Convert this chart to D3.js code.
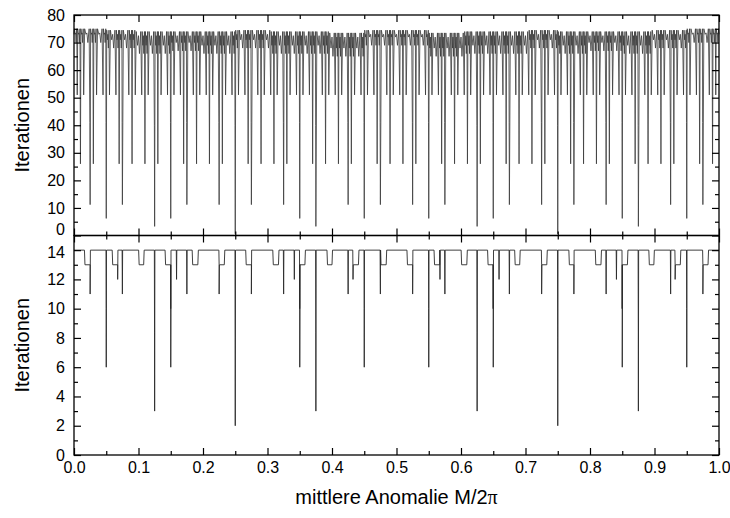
<!DOCTYPE html>
<html>
<head>
<meta charset="utf-8">
<script src="https://cdn.jsdelivr.net/npm/d3@7"></script>
<style>
  body { margin: 0; background: #fff; }
  svg text { font-family: "Liberation Sans", Arial, sans-serif; fill: #000; }
</style>
</head>
<body>
<div id="chart"></div>
<script>
// tick values
var xTicks = [0.0, 0.1, 0.2, 0.3, 0.4, 0.5, 0.6, 0.7, 0.8, 0.9, 1.0];
var xMinor = [0.05, 0.15, 0.25, 0.35, 0.45, 0.55, 0.65, 0.75, 0.85, 0.95];
var topTicks = [0, 10, 20, 30, 40, 50, 60, 70, 80];
var topMinor = [5, 15, 25, 35, 45, 55, 65, 75];
var botTicks = [0, 2, 4, 6, 8, 10, 12, 14];
var botMinor = [1, 3, 5, 7, 9, 11, 13];

// upper panel: positions of the dips, grouped by how deep they go
var top51 = [0.005,0.015,0.035,0.045,0.055,0.065,0.085,0.095,
             0.105,0.115,0.135,0.145,0.155,0.165,0.185,0.195,
             0.205,0.215,0.235,0.245,0.255,0.265,0.285,0.295,
             0.305,0.315,0.335,0.345,0.355,0.365,0.385,0.395,
             0.405,0.415,0.435,0.445,0.455,0.465,0.485,0.495,
             0.505,0.515,0.535,0.545,0.555,0.565,0.585,0.595,
             0.605,0.615,0.635,0.645,0.655,0.665,0.685,0.695,
             0.705,0.715,0.735,0.745,0.755,0.765,0.785,0.795,
             0.805,0.815,0.835,0.845,0.855,0.865,0.885,0.895,
             0.905,0.915,0.935,0.945,0.955,0.965,0.985,0.995];
var top26 = [0.01,0.03,0.07,0.09,0.11,0.13,0.17,0.19,0.21,0.23,
             0.27,0.29,0.31,0.33,0.37,0.39,0.41,0.43,0.47,0.49,
             0.51,0.53,0.57,0.59,0.61,0.63,0.67,0.69,0.71,0.73,
             0.77,0.79,0.81,0.83,0.87,0.89,0.91,0.93,0.97,0.99];
var top11 = [0.025,0.075,0.175,0.225,0.275,0.325,0.425,0.475,
             0.525,0.575,0.675,0.725,0.775,0.825,0.925,0.975];
var top6 = [0.05,0.15,0.35,0.45,0.55,0.65,0.85,0.95];
var top3 = [0.125,0.375,0.625,0.875];
var top1 = [0.25,0.75];
// depth reached by each group, and the neighbouring sample beside the deeper ones
var topLevels = [51, 26, 11.2, 6.2, 3.3, 0.6];
var topShoulders = [null, null, 41, 41, 40, 40];
// the dense band between the dips, per 0.05 slice: arch tops and inner dips
var archTop = [75, 74.5, 74, 74, 74, 74.5, 74, 74, 73.5, 74.5,
               74.5, 73.5, 74, 74, 74.5, 74, 74, 74, 74.5, 75];
var bandDip = [70, 68, 66, 67, 66, 68, 66, 66, 65, 69,
               69, 65, 66, 66, 68, 66, 67, 66, 68, 70];

// lower panel: plateaus at 13 iterations, spikes [x, value, value of neighbour sample]
var botPlateaus = [[0.017,0.025],[0.060,0.0677],[0.101,0.108],[0.142,0.150],
                   [0.184,0.192],[0.225,0.233],[0.267,0.275],[0.309,0.317],
                   [0.350,0.358],[0.393,0.400],[0.433,0.441],[0.476,0.484],
                   [0.517,0.525],[0.559,0.567],[0.601,0.609],[0.642,0.650],
                   [0.684,0.691],[0.725,0.733],[0.768,0.775],[0.809,0.817],
                   [0.850,0.858],[0.892,0.899],[0.932,0.940],[0.975,0.983]];
var botSpikes = [[0.025,11],[0.05,6,10],[0.0677,12],[0.075,11],[0.125,3,8.4],[0.15,6,10],
                 [0.159,12],[0.175,11],[0.225,11],[0.25,2,8],[0.275,11],[0.325,11],
                 [0.3416,12],[0.35,6,10],[0.375,3,8.4],[0.425,11],[0.4326,12],[0.45,6,10],
                 [0.475,11],[0.525,11],[0.55,6,10],[0.5674,12],[0.575,11],[0.625,3,8.4],
                 [0.65,6,10],[0.659,12],[0.675,11],[0.725,11],[0.75,2,8],[0.775,11],
                 [0.825,11],[0.841,12],[0.85,6,10],[0.875,3,8.4],[0.925,11],[0.932,12],
                 [0.95,6,10],[0.975,11]];

var W = 730, H = 518;
var left = 74, right = 719;
var topY0 = 15, midY = 235.5, botY1 = 455;

var svg = d3.select("#chart").append("svg")
    .attr("width", W).attr("height", H);

var x = d3.scaleLinear().domain([0, 1]).range([left, right]);
var yTop = d3.scaleLinear().domain([0, 80]).range([midY, topY0]);
var yBot = d3.scaleLinear().domain([0, 15]).range([botY1, midY]);

// build the upper curve
var spikes = [];
[top51, top26, top11, top6, top3, top1].forEach(function(arr, i) {
  arr.forEach(function(p) { spikes.push([p, topLevels[i], topShoulders[i]]); });
});
spikes.sort(function(a, b) { return a[0] - b[0]; });

var topPts = [[0, 73]];
var prev = 0;
function arch(a, b) {
  var g = b - a, m = (a + b) / 2;
  var seg = Math.min(bandDip.length - 1, Math.floor(m / 0.05));
  var t = archTop[seg], d = bandDip[seg];
  topPts.push([a + g * 0.15, t], [a + g * 0.35, d + 3], [a + g * 0.5, t - 1.5],
              [a + g * 0.65, d], [a + g * 0.85, t]);
}
spikes.forEach(function(s) {
  arch(prev, s[0]);
  if (s[2] != null) topPts.push([s[0] - 0.0004, s[2]]);
  topPts.push([s[0], s[1]]);
  prev = s[0];
});
arch(prev, 1);
topPts.push([1, 73]);

// build the lower curve
function base(v) {
  for (var i = 0; i < botPlateaus.length; i++) {
    if (v >= botPlateaus[i][0] && v <= botPlateaus[i][1]) return 13;
  }
  return 14;
}
var botPts = [[0, 14], [1, 14]];
var eps = 0.0008, dw = 0.0004;
botPlateaus.forEach(function(p) {
  botPts.push([p[0] - eps, 14], [p[0], 13], [p[1], 13], [p[1] + eps, 14]);
});
botSpikes.forEach(function(s) {
  botPts.push([s[0] - dw, base(s[0] - dw)]);
  if (s[2] != null) botPts.push([s[0] - dw / 3, s[2]]);
  botPts.push([s[0], s[1]], [s[0] + dw, base(s[0] + dw)]);
});
botPts.sort(function(a, b) { return a[0] - b[0]; });

var lineTop = d3.line().x(function(d) { return x(d[0]); }).y(function(d) { return yTop(d[1]); });
var lineBot = d3.line().x(function(d) { return x(d[0]); }).y(function(d) { return yBot(d[1]); });

svg.append("path").datum(topPts)
    .attr("d", lineTop).attr("fill", "none")
    .attr("stroke", "#3a3a3a").attr("stroke-width", 0.8);
svg.append("path").datum(botPts)
    .attr("d", lineBot).attr("fill", "none")
    .attr("stroke", "#2a2a2a").attr("stroke-width", 0.9);

// axes: inward ticks on all four sides of each panel
function ticksX(yPos, dirUp, labels) {
  var axMaj = (dirUp ? d3.axisBottom(x) : d3.axisTop(x))
      .tickValues(xTicks).tickSizeInner(-7).tickSizeOuter(0)
      .tickPadding(7).tickFormat(labels ? d3.format(".1f") : "");
  var axMin = (dirUp ? d3.axisBottom(x) : d3.axisTop(x))
      .tickValues(xMinor).tickSizeInner(-4).tickSizeOuter(0).tickFormat("");
  var g1 = svg.append("g").attr("transform", "translate(0," + yPos + ")").call(axMaj);
  var g2 = svg.append("g").attr("transform", "translate(0," + yPos + ")").call(axMin);
  [g1, g2].forEach(function(g) {
    g.select(".domain").remove();
    g.selectAll("line").attr("stroke", "#000").attr("stroke-width", 1.2);
  });
  g1.selectAll("text").attr("font-size", 16);
}
function ticksY(scale, xPos, isLeft, major, minor, labels) {
  var make = isLeft ? d3.axisLeft : d3.axisRight;
  var axMaj = make(scale).tickValues(major).tickSizeInner(-7).tickSizeOuter(0)
      .tickPadding(9).tickFormat(labels ? d3.format("d") : "");
  var axMin = make(scale).tickValues(minor).tickSizeInner(-4).tickSizeOuter(0).tickFormat("");
  var g1 = svg.append("g").attr("transform", "translate(" + xPos + ",0)").call(axMaj);
  var g2 = svg.append("g").attr("transform", "translate(" + xPos + ",0)").call(axMin);
  [g1, g2].forEach(function(g) {
    g.select(".domain").remove();
    g.selectAll("line").attr("stroke", "#000").attr("stroke-width", 1.2);
  });
  g1.selectAll("text").attr("font-size", 16);
  return g1;
}

// upper panel
ticksX(topY0, false, false);
ticksX(midY, true, false);
var gTopLeft = ticksY(yTop, left, true, topTicks, topMinor, true);
ticksY(yTop, right, false, topTicks, topMinor, false);
// lower panel
ticksX(midY, false, false);
ticksX(botY1, true, true);
var gBotLeft = ticksY(yBot, left, true, botTicks, botMinor, true);
ticksY(yBot, right, false, botTicks, botMinor, false);

// keep the "0" of the upper panel clear of the "14" below it
gTopLeft.selectAll(".tick").filter(function(d) { return d === 0; })
    .select("text").attr("dy", "-0.05em");
gBotLeft.selectAll(".tick").filter(function(d) { return d === 14; })
    .select("text").attr("dy", "0.45em");

// frames
svg.append("rect").attr("x", left).attr("y", topY0)
    .attr("width", right - left).attr("height", midY - topY0)
    .attr("fill", "none").attr("stroke", "#000").attr("stroke-width", 1.3);
svg.append("rect").attr("x", left).attr("y", midY)
    .attr("width", right - left).attr("height", botY1 - midY)
    .attr("fill", "none").attr("stroke", "#000").attr("stroke-width", 1.3);

// axis titles
svg.append("text")
    .attr("transform", "translate(29," + ((topY0 + midY) / 2) + ") rotate(-90)")
    .attr("text-anchor", "middle").attr("font-size", 20)
    .text("Iterationen");
svg.append("text")
    .attr("transform", "translate(29," + ((midY + botY1) / 2) + ") rotate(-90)")
    .attr("text-anchor", "middle").attr("font-size", 20)
    .text("Iterationen");
var xt = svg.append("text")
    .attr("x", (left + right) / 2).attr("y", 504)
    .attr("text-anchor", "middle").attr("font-size", 20);
xt.append("tspan").text("mittlere Anomalie M/2");
xt.append("tspan").attr("font-family", "'Liberation Serif', 'DejaVu Serif', serif").text("π");
</script>
</body>
</html>
